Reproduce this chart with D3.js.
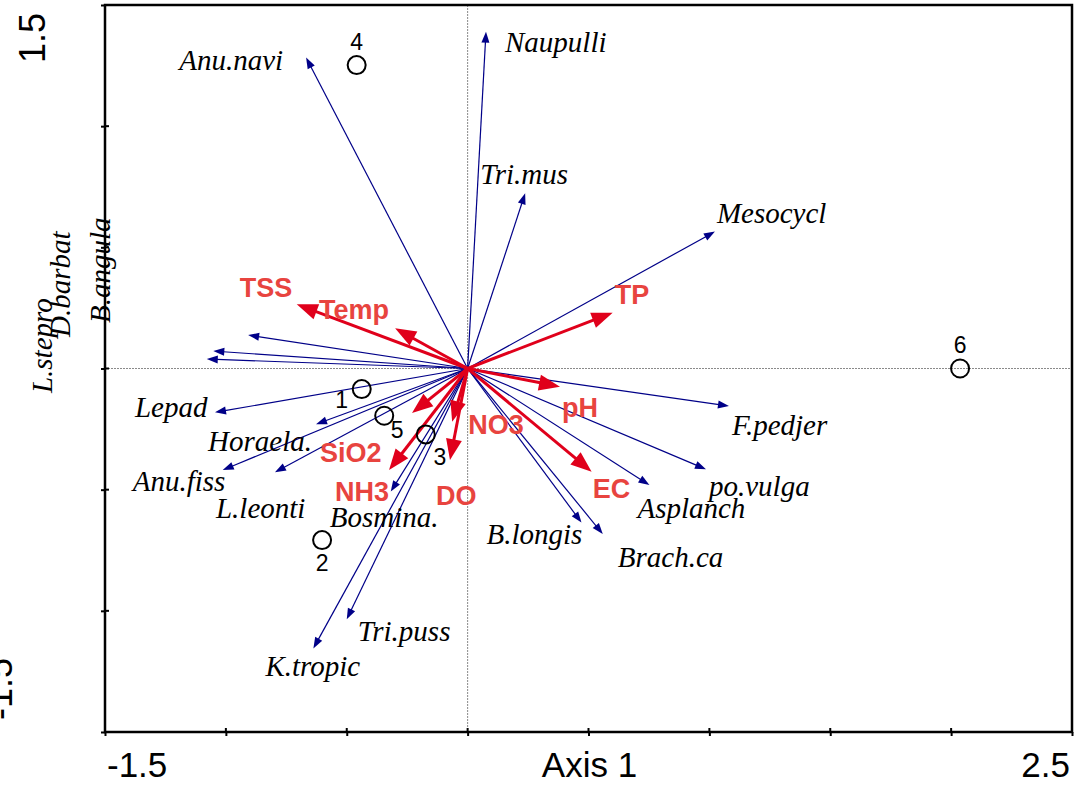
<!DOCTYPE html>
<html>
<head>
<meta charset="utf-8">
<script src="https://cdn.jsdelivr.net/npm/d3@7"></script>
<style>
  html, body { margin: 0; padding: 0; background: #fff; }
  svg { display: block; }
</style>
</head>
<body>
<svg id="chart" width="1085" height="785"></svg>
<script>
// ---------------- DATA ----------------
const speciesNames = ["Naupulli","Tri.mus","Anu.navi","Mesocycl","F.pedjer","po.vulga","Asplanch","Brach.ca","B.longis",
  "Tri.puss","K.tropic","Bosmina.","L.leonti","Anu.fiss","Horaela.","Lepad","B.angula","D.barbat","L.stepro"];
const speciesX = [0.076, 0.238, -0.668, 1.023, 1.081, 0.986, 0.752, 0.559, 0.471,
  -0.500, -0.638, -0.318, -0.797, -1.013, -0.627, -1.045, -0.908, -1.052, -1.079];
const speciesY = [1.390, 0.723, 1.283, 0.565, -0.155, -0.416, -0.481, -0.683, -0.636,
  -1.035, -1.155, -0.508, -0.428, -0.419, -0.230, -0.181, 0.138, 0.072, 0.039];

const envNames = ["TSS","Temp","TP","pH","EC","SiO2","NH3","NO3","DO"];
const envX = [-0.707, -0.300, 0.600, 0.382, 0.513, -0.230, -0.325, -0.064, -0.073];
const envY = [0.265, 0.166, 0.230, -0.075, -0.426, -0.184, -0.419, -0.220, -0.378];

const siteNames = ["1","2","3","4","5","6"];
const siteX = [-0.438, -0.602, -0.173, -0.459, -0.345, 2.037];
const siteY = [-0.085, -0.708, -0.272, 1.252, -0.195, 0.000];

const xTicks = [-1.5, -1.0, -0.5, 0, 0.5, 1.0, 1.5, 2.0, 2.5];
const yTicks = [-1.5, -1.0, -0.5, 0, 0.5, 1.0, 1.5];
const xTickLabels = ["-1.5", "2.5"];
const xAxisTitle = "Axis 1";
const yTickLabels = ["1.5", "-1.5"];

// ---------------- LAYOUT (label offsets, px) ----------------
const speciesLabelLayout = {
  "Naupulli": {dx: 19, dy: 20},
  "Tri.mus":  {dx: -45, dy: -9},
  "Anu.navi": {dx: -23, dy: 12, anchor: "end"},
  "Mesocycl": {dx: 2, dy: -9},
  "F.pedjer": {dx: 3, dy: 29},
  "po.vulga": {dx: 3, dy: 27},
  "Asplanch": {dx: -12, dy: 33},
  "Brach.ca": {dx: 15, dy: 33},
  "B.longis": {dx: -95, dy: 21},
  "Tri.puss": {dx: 11, dy: 22},
  "K.tropic": {dx: -48, dy: 28},
  "Bosmina.": {dx: -61, dy: 35},
  "L.leonti": {dx: -59, dy: 46},
  "Anu.fiss": {dx: -90, dy: 21},
  "Horaela.": {dx: -108, dy: 27},
  "Lepad":    {dx: -80, dy: 5},
  "B.angula": {dx: -138, dy: -12, rotate: true},
  "D.barbat": {dx: -143, dy: -14, rotate: true},
  "L.stepro": {dx: -155, dy: 34, rotate: true}
};
const envLabelLayout = {
  "TSS":  {dx: -57, dy: -7},
  "Temp": {dx: -76, dy: -9},
  "TP":   {dx: 2, dy: -9},
  "pH":   {dx: 2, dy: 30},
  "EC":   {dx: 1, dy: 26},
  "SiO2": {dx: -92, dy: 49},
  "NH3":  {dx: -54, dy: 31},
  "NO3":  {dx: 16, dy: 12},
  "DO":   {dx: -14, dy: 45}
};
const siteLabelLayout = {
  "1": {dx: -20, dy: 19}, "2": {dx: 0, dy: 31}, "3": {dx: 14, dy: 31},
  "4": {dx: 0, dy: -15}, "5": {dx: 13, dy: 22}, "6": {dx: 0, dy: -16}
};

// ---------------- CHART ----------------
const svg = d3.select("#chart");
const pLeft = 105, pRight = 1072, pTop = 5, pBottom = 732;
const x = d3.scaleLinear().domain([-1.5, 2.5]).range([pLeft, pRight]);
const y = d3.scaleLinear().domain([-1.5, 1.5]).range([pBottom, pTop]);

const serif = "'Liberation Serif', 'Times New Roman', serif";
const sans = "'Liberation Sans', Arial, sans-serif";
const blue = "#000088";
const redArrow = "#e0001b";
const redLabel = "#e8443f";

// zero lines
svg.append("line").attr("x1", x(0)).attr("x2", x(0)).attr("y1", pTop).attr("y2", pBottom)
  .attr("stroke", "#8a8a8a").attr("stroke-width", 1).attr("stroke-dasharray", "2,1");
svg.append("line").attr("x1", pLeft).attr("x2", pRight).attr("y1", y(0)).attr("y2", y(0))
  .attr("stroke", "#8a8a8a").attr("stroke-width", 1).attr("stroke-dasharray", "2,1");

// axes via d3 axis (ticks crossing)
const xAxis = svg.append("g").attr("transform", `translate(0,${pBottom})`)
  .call(d3.axisBottom(x).tickValues(xTicks).tickSize(4).tickFormat(""));
const yAxis = svg.append("g").attr("transform", `translate(${pLeft},0)`)
  .call(d3.axisLeft(y).tickValues(yTicks).tickSize(4).tickFormat(""));
[xAxis, yAxis].forEach(g => {
  g.select(".domain").remove();
  g.selectAll(".tick line").attr("stroke", "#000").attr("stroke-width", 2);
});
// inner half of ticks
svg.append("g").selectAll("line").data(xTicks).join("line")
  .attr("x1", d => x(d)).attr("x2", d => x(d)).attr("y1", pBottom - 4).attr("y2", pBottom)
  .attr("stroke", "#000").attr("stroke-width", 2);
svg.append("g").selectAll("line").data(yTicks).join("line")
  .attr("x1", pLeft).attr("x2", pLeft + 4).attr("y1", d => y(d)).attr("y2", d => y(d))
  .attr("stroke", "#000").attr("stroke-width", 2);

// frame
svg.append("rect").attr("x", pLeft).attr("y", pTop).attr("width", pRight - pLeft).attr("height", pBottom - pTop)
  .attr("fill", "none").attr("stroke", "#000").attr("stroke-width", 2.5);

// arrow helper
function arrow(g, x0, y0, x1, y1, color, width, headLen, headHalf) {
  const dx = x1 - x0, dy = y1 - y0, L = Math.hypot(dx, dy);
  const ux = dx / L, uy = dy / L;
  const bx = x1 - ux * headLen, by = y1 - uy * headLen;
  g.append("line").attr("x1", x0).attr("y1", y0).attr("x2", bx + ux * 1).attr("y2", by + uy * 1)
    .attr("stroke", color).attr("stroke-width", width);
  const p = [[x1, y1], [bx - uy * headHalf, by + ux * headHalf], [bx + uy * headHalf, by - ux * headHalf]];
  g.append("polygon").attr("points", p.map(q => q.join(",")).join(" ")).attr("fill", color);
}

const species = speciesNames.map((n, i) => ({name: n, x: speciesX[i], y: speciesY[i]}));
const env = envNames.map((n, i) => ({name: n, x: envX[i], y: envY[i]}));
const sites = siteNames.map((n, i) => ({name: n, x: siteX[i], y: siteY[i]}));

const gBlue = svg.append("g");
species.forEach(d => arrow(gBlue, x(0), y(0), x(d.x), y(d.y), blue, 1.2, 11, 4));
const gRed = svg.append("g");
env.forEach(d => arrow(gRed, x(0), y(0), x(d.x), y(d.y), redArrow, 3, 21, 8));

// sites
svg.append("g").selectAll("circle").data(sites).join("circle")
  .attr("cx", d => x(d.x)).attr("cy", d => y(d.y)).attr("r", 9)
  .attr("fill", "none").attr("stroke", "#000").attr("stroke-width", 2);
svg.append("g").selectAll("text").data(sites).join("text")
  .attr("x", d => x(d.x) + siteLabelLayout[d.name].dx)
  .attr("y", d => y(d.y) + siteLabelLayout[d.name].dy)
  .attr("text-anchor", "middle").attr("font-family", sans).attr("font-size", 23)
  .attr("fill", "#000").text(d => d.name);

// species labels
svg.append("g").selectAll("text").data(species).join("text")
  .attr("transform", d => {
    const l = speciesLabelLayout[d.name];
    const tx = x(d.x) + l.dx, ty = y(d.y) + l.dy;
    return l.rotate ? `translate(${tx},${ty}) rotate(-90)` : `translate(${tx},${ty})`;
  })
  .attr("text-anchor", d => speciesLabelLayout[d.name].anchor || "start")
  .attr("font-family", serif).attr("font-style", "italic").attr("font-size", 29)
  .attr("fill", "#000").text(d => d.name);

// env labels
svg.append("g").selectAll("text").data(env).join("text")
  .attr("x", d => x(d.x) + envLabelLayout[d.name].dx)
  .attr("y", d => y(d.y) + envLabelLayout[d.name].dy)
  .attr("font-family", sans).attr("font-weight", "bold").attr("font-size", 27)
  .attr("fill", redLabel).text(d => d.name);

// axis labels
svg.append("text").attr("x", x(-1.5) + 2).attr("y", 777).attr("font-family", sans).attr("font-size", 35)
  .attr("text-anchor", "start").text(xTickLabels[0]);
svg.append("text").attr("x", x(2.5) - 2).attr("y", 777).attr("font-family", sans).attr("font-size", 35)
  .attr("text-anchor", "end").text(xTickLabels[1]);
svg.append("text").attr("x", (pLeft + pRight) / 2 + 1).attr("y", 777).attr("font-family", sans).attr("font-size", 35)
  .attr("text-anchor", "middle").text(xAxisTitle);
svg.append("text").attr("transform", `translate(45,${y(1.5) + 8}) rotate(-90)`)
  .attr("font-family", sans).attr("font-size", 36).attr("text-anchor", "end").text(yTickLabels[0]);
svg.append("text").attr("transform", `translate(12,${y(-1.5) - 74}) rotate(-90)`)
  .attr("font-family", sans).attr("font-size", 36).attr("text-anchor", "end").text(yTickLabels[1]);
</script>
</body>
</html>
